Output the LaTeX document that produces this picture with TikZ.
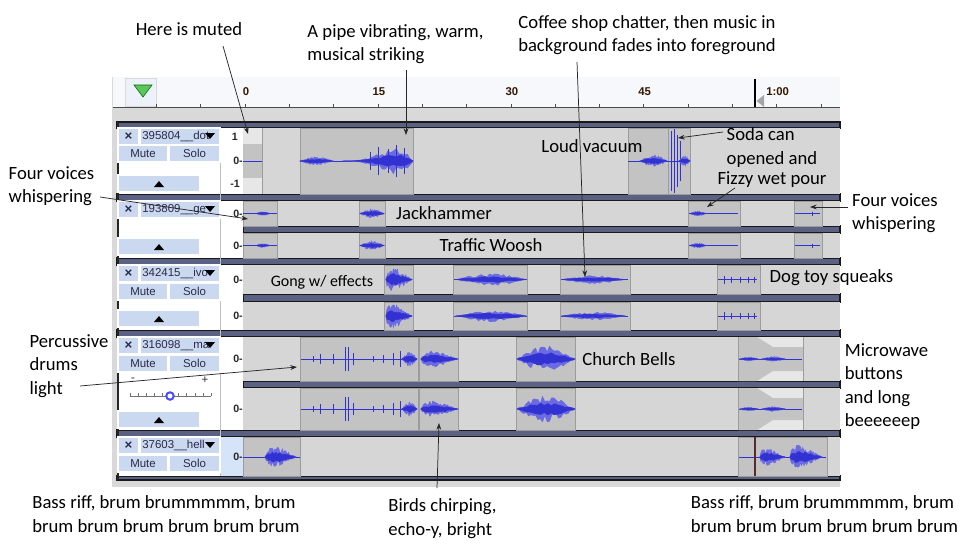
\documentclass[tikz,border=0pt]{standalone}
\usepackage{fontspec}
\setmainfont{Carlito}
\newfontfamily\uifont{Liberation Sans}
\usetikzlibrary{arrows.meta,calc}

\definecolor{lanegray}{HTML}{D6D6D6}
\definecolor{seggray}{HTML}{C3C3C3}
\definecolor{segedge}{HTML}{9C9C9C}
\definecolor{bandslate}{HTML}{5B6182}
\definecolor{wavblue}{HTML}{3232D2}
\definecolor{wavlight}{HTML}{6A6AE2}
\definecolor{btnblue}{HTML}{CAD8F0}
\definecolor{rulerbg}{HTML}{F6F8FC}
\definecolor{framegray}{HTML}{D9D9D9}
\definecolor{hdrtext}{HTML}{2B2B4A}
\definecolor{greentri}{HTML}{5CC85C}
\definecolor{cursorred}{HTML}{5A2A2A}
\definecolor{selblue}{HTML}{D6E4FA}

\tikzset{
  note/.style={font=\fontsize{14}{17.5}\selectfont, inner sep=0pt, align=left},
  arr/.style={-{Stealth[length=5pt,width=3.6pt]}, line width=0.55pt, black!85},
  band/.style={fill=bandslate, draw=black!90, line width=0.8pt},
  lane/.style={fill=lanegray},
  seg/.style={fill=seggray, draw=segedge, line width=0.7pt},
  wav/.style={fill=wavblue, draw=wavblue, line width=0.45pt},
  wavl/.style={fill=wavlight, draw=wavlight, line width=0.45pt},
  btn/.style={fill=btnblue, draw=white, line width=0.8pt},
  hdr/.style={font=\uifont\fontsize{8.6}{9}\selectfont, text=hdrtext, inner sep=0pt},
  ylbl/.style={font=\uifont\bfseries\fontsize{8}{9}\selectfont, text=black!85, inner sep=0pt, anchor=east},
  tlbl/.style={font=\uifont\bfseries\fontsize{8.5}{9}\selectfont, text=black!80!orange, inner sep=0pt},
}

\newcommand{\wline}[3]{\draw[wav] (#1,#3) -- (#2,#3);}
\newcommand{\wblob}[5]{%
  \fill[wavl] plot[domain=#1:#2,samples=26] (\x,{#3-#4*(0.4+0.6*rnd)*sin(180*((\x-#1+0.01)/(#2-#1+0.02))^#5)}) -- plot[domain=#2:#1,samples=26] (\x,{#3+#4*(0.4+0.6*rnd)*sin(180*((\x-#1+0.01)/(#2-#1+0.02))^#5)}) -- cycle;
  \fill[wav] plot[domain=#1:#2,samples=18] (\x,{#3-0.5*#4*(0.5+0.5*rnd)*sin(180*((\x-#1+0.01)/(#2-#1+0.02))^#5)}) -- plot[domain=#2:#1,samples=18] (\x,{#3+0.5*#4*(0.5+0.5*rnd)*sin(180*((\x-#1+0.01)/(#2-#1+0.02))^#5)}) -- cycle;}
\newcommand{\wspikes}[2]{\foreach \sx/\sh in {#2} {\draw[wav] (\sx,#1-\sh) -- (\sx,#1+\sh);}}

\newcommand{\trkhead}[3]{%
  \draw[btn] (118,#1) rectangle (139,#1+17);
  \node[hdr, font=\uifont\bfseries\fontsize{10}{10}\selectfont] (#3x) at (128.5,#1+8.5) {×};
  \draw[btn] (140,#1) rectangle (220,#1+17);
  \node[hdr, anchor=west] (#3name) at (142,#1+8.5) {#2};
  \fill (205,#1+5) -- (215,#1+5) -- (210,#1+11) -- cycle;
}
\newcommand{\mutesolo}[2]{%
  \draw[btn] (118,#1) rectangle (168,#1+17);
  \draw[btn] (169,#1) rectangle (220,#1+17);
  \node[hdr] (#2mute) at (143,#1+8.5) {Mute};
  \node[hdr] (#2solo) at (194.5,#1+8.5) {Solo};
}
\newcommand{\collapse}[1]{%
  \draw[btn] (118,#1) rectangle (200,#1+17);
  \fill (154,#1+12) -- (164,#1+12) -- (159,#1+6) -- cycle;
}

\begin{document}
\begin{tikzpicture}[x=0.75pt,y=-0.75pt]
\useasboundingbox (0,0) rectangle (974,543);
\fill[white] (0,0) rectangle (974,543);
\pgfmathsetseed{12}

% window and timeline
\fill[framegray] (112,77) rectangle (840,487);
\fill[rulerbg] (113,77) rectangle (840,107);
\draw[black!70] (113,107.5) -- (840,107.5);
\draw[fill=btnblue!35, draw=black!15] (125,78) rectangle (156,106);
\draw[fill=greentri, draw=green!40!black] (134,85) -- (152,85) -- (143,97) -- cycle;
\foreach \t in {-2,...,13} \draw[black!70] (245+44.3*\t,104) -- (245+44.3*\t,107);
\foreach \t/\lab [count=\i] in {0/0,3/15,6/30,9/45,12/1:00} \node[tlbl] (sec\i) at (246+44.3*\t,92) {\lab};
\draw[line width=1pt] (755,79) -- (755,107);
\fill[black!35] (756.5,101) -- (764,95) -- (764,107) -- cycle;

% tracks
\foreach \ya/\yb in {122/128,194/201,258/265,330/337,430/437,476/480} \draw[band] (117,\ya) rectangle (840,\yb);
\foreach \ya/\yb in {226/233,294/302,381/388} \draw[band] (243,\ya) rectangle (840,\yb);
\foreach \ya/\yb in {128/194,201/226,233/258,265/294,302/330,337/381,388/430,437/476} \fill[lane] (243,\ya) rectangle (840,\yb);
\foreach \ya/\yb in {128/194,201/258,265/330,337/430,437/476} \fill[white] (119,\ya) rectangle (243,\yb);
\fill[selblue] (221,437) rectangle (243,476);
\draw[black!25] (220.5,128) -- (220.5,476);
\fill[black!85] (117,122) rectangle (119,480);

% track 1
\fill[lanegray!60!white] (243,128) rectangle (262,194);
\fill[seggray] (243,144) rectangle (262,178);
\draw[segedge, line width=0.7pt] (262,128) -- (262,194);
\wline{243}{262}{161}
\draw[seg] (300,128) rectangle (413,194);
\wline{300}{413}{161}
\wblob{300}{333}{161}{4}{1}
\wblob{343}{413}{161}{13}{2.5}
\wspikes{161}{370/9,378/14,388/12,396/16,404/13}
\draw[seg] (628,128) rectangle (668,194);
\wline{628}{668}{161}
\wblob{640}{667}{161}{6}{1}
\draw[seg] (668,128) rectangle (690,194);
\wline{668}{690}{161}
\wspikes{161}{671/30,674/32,677/26,680/20}
\wblob{679}{690}{161}{5}{1}

% track 2
\foreach \yc/\ya/\yb in {213.5/201/226,245.5/233/258} {
  \draw[seg] (243,\ya) rectangle (277,\yb);
  \wline{243}{277}{\yc}
  \wblob{256}{270}{\yc}{2}{1}
  \draw[seg] (359,\ya) rectangle (385,\yb);
  \wblob{360}{384}{\yc}{4.5}{1}
  \draw[seg] (688,\ya) rectangle (740,\yb);
  \wline{689}{738}{\yc}
  \wblob{690}{706}{\yc}{2.5}{1}
  \draw[seg] (794,\ya) rectangle (822,\yb);
  \wline{795}{820}{\yc}
  \wspikes{\yc}{812/2}
}

% track 3
\foreach \yc/\ya/\yb in {279.5/265/294,316/302/330} {
  \draw[seg] (384,\ya) rectangle (413,\yb);
  \wblob{386}{412}{\yc}{12}{0.5}
  \draw[seg] (453,\ya) rectangle (527,\yb);
  \wline{454}{527}{\yc}
  \wblob{456}{526}{\yc}{6}{1}
  \draw[seg] (560,\ya) rectangle (630,\yb);
  \wline{561}{628}{\yc}
  \wblob{562}{625}{\yc}{4}{1}
  \draw[seg] (717,\ya) rectangle (760,\yb);
  \wline{718}{757}{\yc}
  \wspikes{\yc}{724/4,731/3,740/3,748/3,754/3}
}

% track 4
\foreach \yc/\ya/\yb in {359/337/381,409/388/430} {
  \draw[seg] (300,\ya) rectangle (418,\yb);
  \wline{301}{417}{\yc}
  \wspikes{\yc}{313/3,320/5,333/5,345/12,348/12,353/6,373/3,383/4,393/6,400/8}
  \wblob{402}{417}{\yc}{7}{1}
  \draw[seg] (419,\ya) rectangle (458,\yb);
  \wblob{421}{458}{\yc}{8}{0.6}
  \draw[seg] (516,\ya) rectangle (575,\yb);
  \wblob{517}{575}{\yc}{13}{1}
  \fill[lanegray!60!white] (738,\ya) rectangle (803,\yb);
  \fill[seggray] (738,\ya) -- (757,\ya) -- (773,\ya+10) -- (803,\ya+10) -- (803,\yb-10) -- (773,\yb-10) -- (757,\yb) -- (738,\yb) -- cycle;
  \draw[segedge, line width=0.7pt] (738,\ya) -- (738,\yb) (803,\ya) -- (803,\yb);
  \wline{739}{802}{\yc}
  \wblob{740}{758}{\yc}{2}{1}
  \wblob{762}{785}{\yc}{2.5}{1}
}

% track 5
\draw[seg] (243,437) rectangle (300,476);
\wline{243}{300}{457}
\wblob{265}{296}{457}{10}{0.6}
\draw[seg] (738,437) rectangle (827,476);
\wline{739}{826}{457}
\wblob{760}{785}{457}{9}{0.5}
\wblob{790}{822}{457}{12}{0.5}
\draw[cursorred, line width=0.8pt] (755,437) -- (755,476);

% track headers
\trkhead{128}{395804\_\_dot}{a}
\mutesolo{145}{a}
\collapse{175}
\trkhead{201}{193809\_\_ge}{b}
\collapse{238}
\trkhead{265}{342415\_\_ivo}{c}
\mutesolo{283}{c}
\collapse{310}
\trkhead{337}{316098\_\_ma}{d}
\mutesolo{355}{d}
\node[hdr] (dminus) at (133,380) {-};
\node[hdr] (dplus) at (205,380) {+};
\draw[black!55] (130,396) -- (211,396);
\foreach \k in {0,...,10} \draw[black!55] (130+8.1*\k,393) -- (130+8.1*\k,396);
\draw[fill=white, draw=blue!70, line width=1.5pt] (170,396) circle (2.8pt);
\collapse{411}
\trkhead{437}{37603\_\_hell}{e}
\mutesolo{455}{e}

\node[ylbl] (top1) at (238,137) {1};
\node[ylbl] (zero1) at (243,161) {0-};
\node[ylbl] (bot1) at (240,184) {-1};
\foreach \yc [count=\i from 2] in {213.5,245.5,279.5,316,359,409,457} \node[ylbl] (zero\i) at (243,\yc) {0-};

% notes
\node[note] (muted) at (189,29) {Here is muted};
\node[note] (pipe) at (395.5,44) {A pipe vibrating, warm,\\musical striking};
\node[note, align=center] (coffee) at (647,35) {Coffee shop chatter, then music in\\background fades into foreground};
\node[note] (vacuum) at (592,146) {Loud vacuum};
\node[note] (soda) at (772,147.5) {Soda can\\opened and};
\node[note] (fizzy) at (772,180) {Fizzy wet pour};
\node[note] (fourR) at (895,213.5) {Four voices\\whispering};
\node[note] (fourL) at (51.5,186.5) {Four voices\\whispering};
\node[note] (jack) at (444,213) {Jackhammer};
\node[note] (traffic) at (491,245) {Traffic Woosh};
\node[note, font=\fontsize{12}{15}\selectfont] (gong) at (322,282) {Gong w/ effects};
\node[note] (dog) at (831.5,278) {Dog toy squeaks};
\node[note] (drums) at (69,366) {Percussive\\drums\\light};
\node[note] (church) at (629,359) {Church Bells};
\node[note] (micro) at (886.5,386.5) {Microwave\\buttons\\and long\\beeeeeep};
\node[note] (bassA) at (166,514) {Bass riff, brum brummmmm, brum\\brum brum brum brum brum brum};
\node[note] (birds) at (442.5,518.5) {Birds chirping,\\echo-y, bright};
\node[note] (bassB) at (824.5,514) {Bass riff, brum brummmmm, brum\\brum brum brum brum brum brum};

\coordinate (mutedtip) at (248,134);
\coordinate (pipetip) at (406,135);
\coordinate (coffeetip) at (585,277);
\coordinate (sodatip) at (678,138);
\coordinate (fizzytip) at (707,207);
\coordinate (fourRtip) at (810,207);
\coordinate (fourLtip) at (248,219);
\coordinate (drumstip) at (297,367);
\coordinate (birdstip) at (439,423);

\draw[arr] ($(muted.center)+(34,17)$) -- (mutedtip);
\draw[arr] ($(pipe.center)+(10.5,26)$) -- (pipetip);
\draw[arr] ($(coffee.center)+(-70,27)$) -- (coffeetip);
\draw[arr] ($(soda.center)+(-49,-15.5)$) -- (sodatip);
\draw[arr] ($(fizzy.center)+(-37,8)$) -- (fizzytip);
\draw[arr] ($(fourR.center)+(-47,-6.5)$) -- (fourRtip);
\draw[arr] ($(fourL.center)+(48.5,10.5)$) -- (fourLtip);
\draw[arr] ($(drums.center)+(11,20)$) -- (drumstip);
\draw[arr] ($(birds.center)+(-5.5,-30.5)$) -- (birdstip);
\end{tikzpicture}
\end{document}
